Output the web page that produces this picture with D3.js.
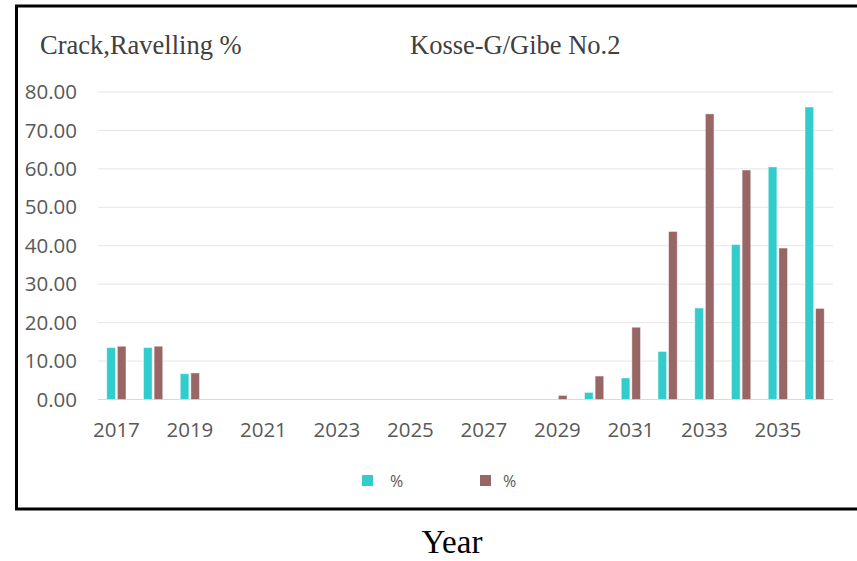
<!DOCTYPE html>
<html>
<head>
<meta charset="utf-8">
<script src="https://cdn.jsdelivr.net/npm/d3@7"></script>
<style>
  html, body { margin: 0; padding: 0; background: #fff; }
  svg { display: block; }
</style>
</head>
<body>
<svg id="chart" width="857" height="561"></svg>
<script>
// Years on the category axis
const years = [2017, 2018, 2019, 2020, 2021, 2022, 2023, 2024, 2025, 2026,
               2027, 2028, 2029, 2030, 2031, 2032, 2033, 2034, 2035, 2036];
// Cracking % per year
const crack = [13.5, 13.5, 6.7, 0, 0, 0, 0, 0, 0, 0,
               0, 0, 0, 1.85, 5.6, 12.5, 23.8, 40.3, 60.5, 76.1];
// Ravelling % per year
const ravel = [13.85, 13.85, 6.9, 0, 0, 0, 0, 0, 0, 0,
               0, 0, 1.05, 6.1, 18.8, 43.7, 74.3, 59.7, 39.4, 23.7];
const seriesNames = ["%", "%"];
const yTicks = [0, 10, 20, 30, 40, 50, 60, 70, 80];
const xTickYears = [2017, 2019, 2021, 2023, 2025, 2027, 2029, 2031, 2033, 2035];

const colors = ["#33CCCC", "#996666"];
const axisFont = "'Open Sans', 'Noto Sans', sans-serif";
const serifFont = "'Liberation Serif', 'Times New Roman', serif";
const svg = d3.select("#chart");

// Outer frame
svg.append("rect")
  .attr("x", 16.5).attr("y", 6)
  .attr("width", 880).attr("height", 503)
  .attr("fill", "none").attr("stroke", "#000").attr("stroke-width", 3);

const plot = { left: 98, right: 833, top: 92, bottom: 399.5 };

const x = d3.scaleBand().domain(years).range([plot.left, plot.right]).paddingInner(0).paddingOuter(0);
const y = d3.scaleLinear().domain([0, 80]).range([plot.bottom, plot.top]);

// Gridlines
svg.append("g")
  .selectAll("line").data(yTicks).join("line")
  .attr("x1", plot.left).attr("x2", plot.right)
  .attr("y1", d => y(d)).attr("y2", d => y(d))
  .attr("stroke", d => d === 0 ? "#d9d9d9" : "#e6e6e6").attr("stroke-width", 1);

// Y axis labels
const yAxis = d3.axisLeft(y).tickValues(yTicks).tickFormat(d3.format(".2f")).tickSize(0).tickPadding(0);
svg.append("g")
  .attr("transform", `translate(77,0)`)
  .call(yAxis)
  .call(g => g.select(".domain").remove())
  .call(g => g.selectAll("text")
    .attr("fill", "#595959")
    .style("font-family", axisFont)
    .style("font-size", "20.5px"));

// X axis labels
const xAxis = d3.axisBottom(x).tickValues(xTickYears).tickSize(0).tickPadding(0);
svg.append("g")
  .attr("transform", `translate(0,422)`)
  .call(xAxis)
  .call(g => g.select(".domain").remove())
  .call(g => g.selectAll("text")
    .attr("fill", "#595959")
    .style("font-family", axisFont)
    .style("font-size", "20.5px"));

// Bars
const barW = 8.6, gap = 2;
const series = [crack, ravel];
series.forEach((vals, si) => {
  svg.append("g")
    .selectAll("rect").data(years.map((yr, i) => ({ yr, v: vals[i] })).filter(d => d.v > 0))
    .join("rect")
    .attr("x", d => x(d.yr) + x.bandwidth() / 2 - barW - gap / 2 + si * (barW + gap))
    .attr("y", d => y(d.v))
    .attr("width", barW)
    .attr("height", d => y(0) - y(d.v))
    .attr("fill", colors[si])
    .attr("stroke", "#fff").attr("stroke-opacity", 0.5).attr("stroke-width", 0.8);
});

// Titles
svg.append("text")
  .attr("x", 40).attr("y", 54)
  .style("font-family", serifFont)
  .style("font-size", "26.5px").attr("fill", "#404040")
  .text("Crack,Ravelling %");
svg.append("text")
  .attr("x", 410).attr("y", 54)
  .style("font-family", serifFont)
  .style("font-size", "26.5px").attr("fill", "#404040")
  .text("Kosse-G/Gibe No.2");

// Legend
const legendX = [362, 480];
const legendTextX = [390, 503];
seriesNames.forEach((name, i) => {
  svg.append("rect")
    .attr("x", legendX[i]).attr("y", 475)
    .attr("width", 11).attr("height", 11)
    .attr("fill", colors[i]);
  svg.append("text")
    .attr("x", legendTextX[i]).attr("y", 487)
    .style("font-family", axisFont)
    .style("font-size", "16px").attr("fill", "#595959")
    .text(name);
});

// X axis title below the frame
svg.append("text")
  .attr("x", 452).attr("y", 553)
  .attr("text-anchor", "middle")
  .style("font-family", serifFont)
  .style("font-size", "33px").attr("fill", "#000")
  .text("Year");
</script>
</body>
</html>
